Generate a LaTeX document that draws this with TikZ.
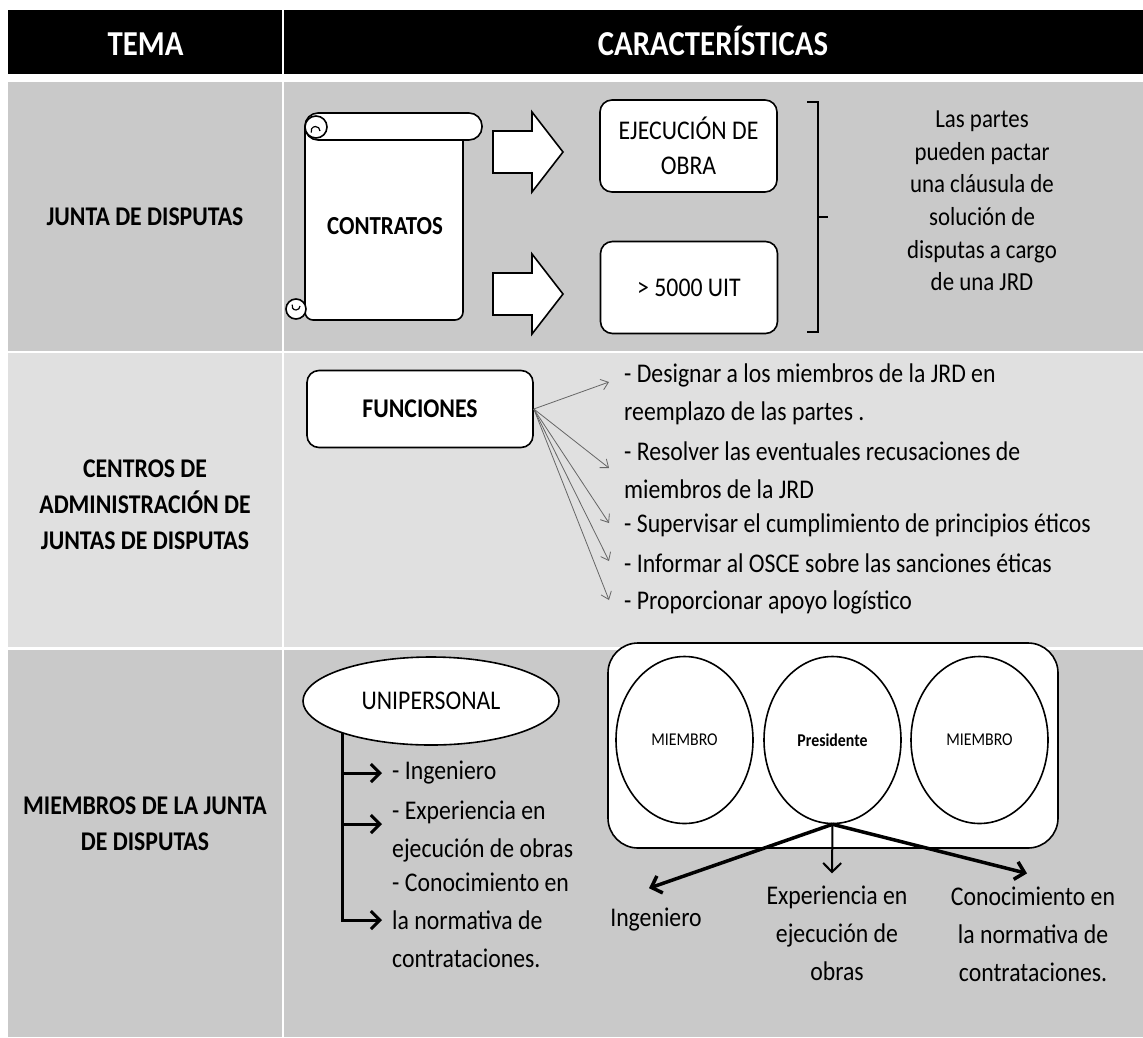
\documentclass[tikz,border=0pt]{standalone}
\usepackage{fontspec}
\setmainfont{Carlito}[FakeStretch=0.88]
\usepackage{tikz}
\usetikzlibrary{arrows.meta,shapes.geometric,positioning}

\definecolor{rowdark}{RGB}{201,201,201}
\definecolor{rowlight}{RGB}{224,224,224}

\begin{document}
\begin{tikzpicture}[x=1pt, y=-1pt,
    txt/.style={inner sep=0pt, font=\fontsize{27}{38}\selectfont},
    tema/.style={inner sep=0pt, align=center, font=\bfseries\fontsize{27}{36}\selectfont},
    head/.style={inner sep=0pt, anchor=base, text=white, font=\bfseries\fontsize{35}{40}\selectfont},
    caja/.style={draw, fill=white, line width=1.6pt, rounded corners=12pt, align=center,
      font=\fontsize{27}{35}\selectfont, minimum width=177pt, minimum height=92pt},
    item/.style={txt, anchor=west, align=left},
    circ/.style={ellipse, draw, fill=white, line width=1.6pt, minimum width=137pt,
      minimum height=167pt, inner sep=0pt, font=\fontsize{18}{21}\selectfont},
    scroll/.style={draw, fill=white, line width=1.6pt},
    funflecha/.style={draw=black!60, line width=0.8pt, -{Straight Barb[length=7pt,width=11pt]}},
    gruesa/.style={line width=3pt, -{Straight Barb[length=9pt,width=18pt]}},
  ]
\useasboundingbox (0,0) rectangle (1143,1037);
\fill[white] (0,0) rectangle (1143,1037);

% table
\fill[black] (8,10) rectangle (1143,74);
\fill[rowdark] (8,82) rectangle (1143,351);
\fill[rowlight] (8,353) rectangle (1143,647);
\fill[rowdark] (8,650) rectangle (1143,1037);
\draw[white, line width=2.5pt] (283,10) -- (283,1037);

\node[head] (tema) at (145.5,55) {TEMA};
\node[head] (carac) at (713,55) {CARACTERÍSTICAS};

\node[tema] (jrd) at (145,217) {JUNTA DE DISPUTAS};
\node[tema] (cadj) at (145,505) {CENTROS DE\\ADMINISTRACIÓN DE\\JUNTAS DE DISPUTAS};
\node[tema] (mjd) at (145,824) {MIEMBROS DE LA JUNTA\\DE DISPUTAS};

% contrato
\path[scroll, rounded corners=8pt] (305,127) -- (305,320) -- (463,320) -- (463,127);
\path[scroll, rounded corners=13pt] (305,113) rectangle (482,140);
\path[scroll] (316,127) circle (11pt);
\draw[line width=1.2pt] (320,131) arc[start angle=0, end angle=200, radius=4.5pt];
\path[scroll] (296,309) circle (10pt);
\draw[line width=1.2pt] (300,306) arc[start angle=0, end angle=-200, radius=4pt];
\node[inner sep=0pt, font=\bfseries\fontsize{26}{30}\selectfont] (contr) at (385,226) {CONTRATOS};

\foreach \yy in {152,294}
  \path[scroll] (493,\yy-21) -- (532,\yy-21) -- (532,\yy-40) -- (563,\yy)
    -- (532,\yy+40) -- (532,\yy+21) -- (493,\yy+21) -- cycle;

\node[caja] (ejec) at (688.5,146) {EJECUCIÓN DE\\OBRA};
\node[caja] (uit) at (689,287.5) {> 5000 UIT};

\draw[line width=2.5pt] (807,102) -- (818,102) -- (818,332) -- (807,332);
\draw[line width=2.5pt] (818,217) -- (828,217);
\node[txt, align=center, font=\fontsize{26}{32.6}\selectfont] (pactar) at (982,201)
  {Las partes\\pueden pactar\\una cláusula de\\solución de\\disputas a cargo\\de una JRD};

% funciones
\node[caja, font=\bfseries\fontsize{27}{30}\selectfont, minimum width=226pt, minimum height=77pt]
  (fun) at (420,409) {FUNCIONES};
\node[item] (f1) at (624,394) {- Designar a los miembros de la JRD en\\reemplazo de las partes .};
\node[item] (f2) at (624,470) {- Resolver las eventuales recusaciones de\\miembros de la JRD};
\node[item] (f3) at (624,525) {- Supervisar el cumplimiento de principios éticos};
\node[item] (f4) at (624,563) {- Informar al OSCE sobre las sanciones éticas};
\node[item] (f5) at (624,602) {- Proporcionar apoyo logístico};
\draw[funflecha] (fun.east) -- ([xshift=-15pt,yshift=12pt]f1.west);
\foreach \f in {f2,f3,f4,f5}
  \draw[funflecha] (fun.east) -- ([xshift=-15pt,yshift=2pt]\f.west);

% miembros
\node[ellipse, draw, fill=white, line width=1.6pt, minimum width=256pt, minimum height=88pt,
  inner sep=0pt, font=\fontsize{27}{30}\selectfont] (uni) at (431,701) {UNIPERSONAL};
\node[item] (u1) at (392,773) {- Ingeniero};
\node[item] (u2) at (392,832) {- Experiencia en\\ejecución de obras};
\node[item] (u3) at (392,920) {- Conocimiento en\\la normativa de\\contrataciones.};
\draw[gruesa] (uni.200) |- ([xshift=-10pt]u3.west);
\draw[gruesa] (uni.200 |- u1.west) -- ([xshift=-10pt]u1.west);
\draw[gruesa] ([yshift=8pt]uni.200 |- u2.west) -- ([xshift=-10pt,yshift=8pt]u2.west);

\node[draw, fill=white, line width=1.6pt, rounded corners=30pt, minimum width=450pt,
  minimum height=205pt] (junta) at (833,745.5) {};
\node[circ] (m1) at (684.5,740) {MIEMBRO};
\node[circ, font=\bfseries\fontsize{18}{21}\selectfont] (pres) at (832.5,740) {Presidente};
\node[circ] (m3) at (979.5,740) {MIEMBRO};

\node[txt] (ing) at (656,920) {Ingeniero};
\node[txt, align=center] (exp) at (837,933) {Experiencia en\\ejecución de\\obras};
\node[txt, align=center] (con) at (1033,934) {Conocimiento en\\la normativa de\\contrataciones.};
\draw[gruesa, line width=3.5pt] (pres.south) -- ([xshift=-7pt,yshift=20pt]ing.north);
\draw[gruesa, line width=2pt] (pres.south) -- ([xshift=-5pt,yshift=12pt]exp.north);
\draw[gruesa, line width=3.5pt] (pres.south) -- ([xshift=-6pt,yshift=13pt]con.north);
\end{tikzpicture}
\end{document}
